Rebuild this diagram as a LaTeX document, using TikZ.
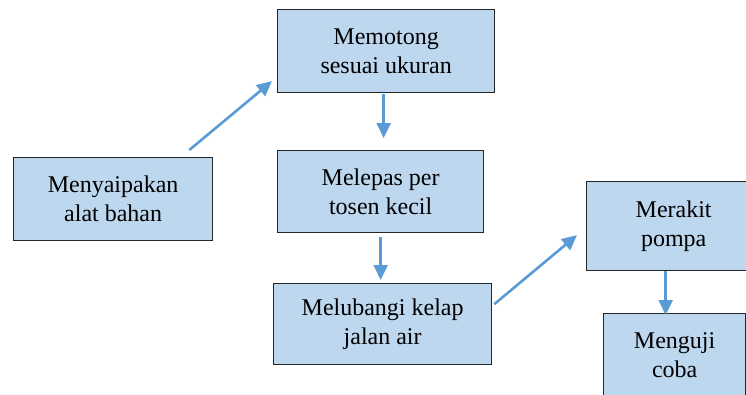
\documentclass[tikz,border=0pt]{standalone}
\usepackage{fontspec}
\setmainfont{Liberation Serif}
\usetikzlibrary{arrows.meta,calc}
\definecolor{boxfill}{HTML}{BDD7EE}
\definecolor{arrowblue}{HTML}{5B9BD5}
\definecolor{boxline}{HTML}{262626}
\tikzset{
  stepbox/.style={draw=boxline, fill=boxfill, line width=1.3pt, inner sep=0pt,
    align=center, font=\fontsize{24}{29}\selectfont, anchor=north west},
  flow/.style={draw=arrowblue, line width=2.6pt,
    -{Triangle[length=15pt,width=14pt]}}
}
\begin{document}
\begin{tikzpicture}[x=1pt,y=-1pt]
\useasboundingbox (0,0) rectangle (746,394);
\clip (0,0) rectangle (746,394);
\node[stepbox, minimum width=199pt, minimum height=83pt] (a) at (13,157) {Menyaipakan\\alat bahan};
\node[stepbox, minimum width=217pt, minimum height=83pt] (b) at (277,9) {Memotong\\sesuai ukuran};
\node[stepbox, minimum width=206pt, minimum height=82pt] (c) at (277,150) {Melepas per\\tosen kecil};
\node[stepbox, minimum width=218pt, minimum height=81pt] (d) at (273,283) {Melubangi kelap\\jalan air};
\node[stepbox, minimum width=174pt, minimum height=89pt] (e) at (586,181) {Merakit\\pompa};
\node[stepbox, minimum width=142pt, minimum height=84pt] (f) at (603,313) {Menguji\\coba};
\draw[flow] ($(a.north east)+(-24,-7)$) -- ($(b.west)+(-5,30)$);
\draw[flow] ($(b.south)+(-2.5,1)$) -- ($(c.north)+(3,-12)$);
\draw[flow] ($(c.south)+(0,4)$) -- ($(d.north)+(-2,-3)$);
\draw[flow] ($(d.east)+(2,-20)$) -- ($(e.west)+(-9,9)$);
\draw[flow] ($(e.south)+(-8,0)$) -- ($(f.north)+(-9,2)$);
\end{tikzpicture}
\end{document}
